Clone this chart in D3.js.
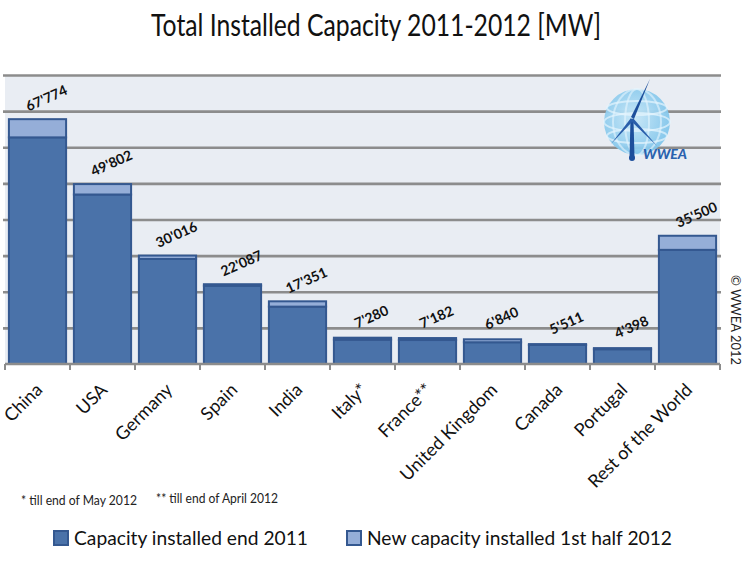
<!DOCTYPE html>
<html>
<head>
<meta charset="utf-8">
<script src="https://cdn.jsdelivr.net/npm/d3@7"></script>
<style>
  html, body { margin: 0; padding: 0; background: #ffffff; }
  svg { display: block; }
</style>
</head>
<body>
<svg id="chart" width="755" height="574"></svg>
<script>
const categories = ["China", "USA", "Germany", "Spain", "India", "Italy*", "France**", "United Kingdom", "Canada", "Portugal", "Rest of the World"];
const capacityEnd2011 = [62733, 46919, 29075, 21673, 15880, 6737, 6640, 6018, 5265, 4083, 31600];
const newFirstHalf2012 = [5041, 2883, 941, 414, 1471, 543, 542, 822, 246, 315, 3900];
const totalLabels = ["67'774", "49'802", "30'016", "22'087", "17'351", "7'280", "7'182", "6'840", "5'511", "4'398", "35'500"];
const gridValues = [0, 10000, 20000, 30000, 40000, 50000, 60000, 70000, 80000];
const seriesNames = ["Capacity installed end 2011", "New capacity installed 1st half 2012"];
const titleText = "Total Installed Capacity 2011-2012 [MW]";
const footnotes = ["* till end of May 2012", "** till end of April 2012"];

const darkFill = "#4A72A9", lightFill = "#95AED8", barStroke = "#345890";
const svg = d3.select("#chart");
const font = "Lato, 'Open Sans', sans-serif";

const x = d3.scaleBand().domain(categories).range([5, 720]).paddingInner(0.12).paddingOuter(0.06);
const y = d3.scaleLinear().domain([0, 80000]).range([364, 75]);

// Title
svg.append("text").attr("x", 376).attr("y", 36).attr("text-anchor", "middle")
  .attr("font-family", font).attr("font-size", 30).attr("fill", "#111")
  .attr("textLength", 450).attr("lengthAdjust", "spacingAndGlyphs")
  .text(titleText);

// Plot background
svg.append("rect").attr("x", 5).attr("y", y(80000)).attr("width", 715).attr("height", y(0) - y(80000))
  .attr("fill", "#E9EDF3");

// Gridlines via axis
const gridAxis = d3.axisLeft(y).tickValues(gridValues.slice(1)).tickSize(-718).tickFormat("");
const gg = svg.append("g").attr("transform", "translate(3,0)").call(gridAxis);
gg.select(".domain").remove();
gg.selectAll(".tick line").attr("stroke", "#8C8C8C").attr("stroke-width", 2.6);

// Logo (decoration)
const logo = svg.append("g");
const defs = svg.append("defs");
const rg = defs.append("radialGradient").attr("id", "globe").attr("cx", "45%").attr("cy", "45%").attr("r", "60%");
rg.append("stop").attr("offset", "0%").attr("stop-color", "#C9E8F8");
rg.append("stop").attr("offset", "100%").attr("stop-color", "#7CC3EA");
logo.append("circle").attr("cx", 637).attr("cy", 122).attr("r", 33).attr("fill", "url(#globe)").attr("opacity", 0.95);
[[-14, 30, 7], [0, 33, 9], [14, 30, 7]].forEach(d => {
  logo.append("ellipse").attr("cx", 637).attr("cy", 122 + d[0]).attr("rx", d[1]).attr("ry", d[2])
    .attr("fill", "none").attr("stroke", "#E6F5FD").attr("stroke-width", 2).attr("opacity", 0.7);
});
[12, 24].forEach(r => {
  logo.append("ellipse").attr("cx", 637).attr("cy", 122).attr("rx", r).attr("ry", 33)
    .attr("fill", "none").attr("stroke", "#E6F5FD").attr("stroke-width", 2).attr("opacity", 0.6);
});
logo.append("path").attr("d", "M630.5,119 L633.5,119 L634.5,158 L629.5,158 Z").attr("fill", "#1D4F9C");
logo.append("circle").attr("cx", 632).attr("cy", 158).attr("r", 3).attr("fill", "#1D4F9C");
logo.append("path").attr("d", "M631,117 L650,79 L634,119 Z").attr("fill", "#1D4F9C");
logo.append("path").attr("d", "M631,118 L611,144 L633,121 Z").attr("fill", "#2A5EAA");
logo.append("path").attr("d", "M633,118 L657,146 L631,121 Z").attr("fill", "#2A5EAA");
logo.append("text").attr("x", 643).attr("y", 159).attr("font-family", font).attr("font-weight", 900)
  .attr("font-style", "italic").attr("font-size", 14).attr("fill", "#2A62AE").text("WWEA");

// Bars
const bars = svg.append("g");
categories.forEach((c, i) => {
  const a = capacityEnd2011[i], b = newFirstHalf2012[i];
  bars.append("rect").attr("x", x(c)).attr("y", y(a)).attr("width", x.bandwidth()).attr("height", y(0) - y(a))
    .attr("fill", darkFill).attr("stroke", barStroke).attr("stroke-width", 2);
  bars.append("rect").attr("x", x(c)).attr("y", y(a + b)).attr("width", x.bandwidth()).attr("height", y(a) - y(a + b))
    .attr("fill", lightFill).attr("stroke", barStroke).attr("stroke-width", 2);
});

// Value labels
categories.forEach((c, i) => {
  const cx = x(c) + x.bandwidth() / 2 + 9;
  const cy = y(capacityEnd2011[i] + newFirstHalf2012[i]) - 21;
  svg.append("text").attr("transform", `translate(${cx},${cy}) rotate(-24)`)
    .attr("text-anchor", "middle").attr("dy", "0.35em")
    .attr("font-family", font).attr("font-weight", 700).attr("font-size", 14).attr("fill", "#111")
    .text(totalLabels[i]);
});

// X axis
const xAxis = d3.axisBottom(x).tickSize(0).tickFormat("");
const xg = svg.append("g").attr("transform", "translate(0,364)").call(xAxis);
xg.select(".domain").attr("stroke", "#8C8C8C").attr("stroke-width", 2.5).attr("d", "M5,0H720");
const bounds = categories.map(c => x(c) - x.step() * x.paddingInner() / 2);
bounds.push(720);
bounds[0] = 5;
xg.selectAll(".bound").data(bounds).join("line").attr("class", "bound")
  .attr("x1", d => d).attr("x2", d => d).attr("y1", 0).attr("y2", 6)
  .attr("stroke", "#8C8C8C").attr("stroke-width", 2);

// Category labels
categories.forEach(c => {
  const px = x(c) + x.bandwidth() / 2 + 6;
  svg.append("text").attr("transform", `translate(${px},391) rotate(-45)`)
    .attr("text-anchor", "end").attr("font-family", font).attr("font-size", 18).attr("fill", "#111")
    .text(c);
});

// Copyright
svg.append("text").attr("transform", "translate(731,275) rotate(90)")
  .attr("font-family", font).attr("font-size", 13).attr("fill", "#222")
  .attr("textLength", 90).attr("lengthAdjust", "spacingAndGlyphs").text("© WWEA 2012");

// Footnotes
svg.append("text").attr("x", 21).attr("y", 505).attr("font-family", font).attr("font-size", 13).attr("fill", "#222")
  .attr("textLength", 116).attr("lengthAdjust", "spacingAndGlyphs").text(footnotes[0]);
svg.append("text").attr("x", 156).attr("y", 503).attr("font-family", font).attr("font-size", 13).attr("fill", "#222")
  .attr("textLength", 122).attr("lengthAdjust", "spacingAndGlyphs").text(footnotes[1]);

// Legend
const legendItems = [
  { name: seriesNames[0], fill: darkFill, sx: 54, tx: 74, w: 234 },
  { name: seriesNames[1], fill: lightFill, sx: 347, tx: 367, w: 305 }
];
legendItems.forEach(d => {
  svg.append("rect").attr("x", d.sx).attr("y", 531).attr("width", 14).attr("height", 14)
    .attr("fill", d.fill).attr("stroke", barStroke).attr("stroke-width", 2);
  svg.append("text").attr("x", d.tx).attr("y", 545).attr("font-family", font).attr("font-size", 19)
    .attr("fill", "#111").attr("textLength", d.w).attr("lengthAdjust", "spacingAndGlyphs").text(d.name);
});
</script>
</body>
</html>
